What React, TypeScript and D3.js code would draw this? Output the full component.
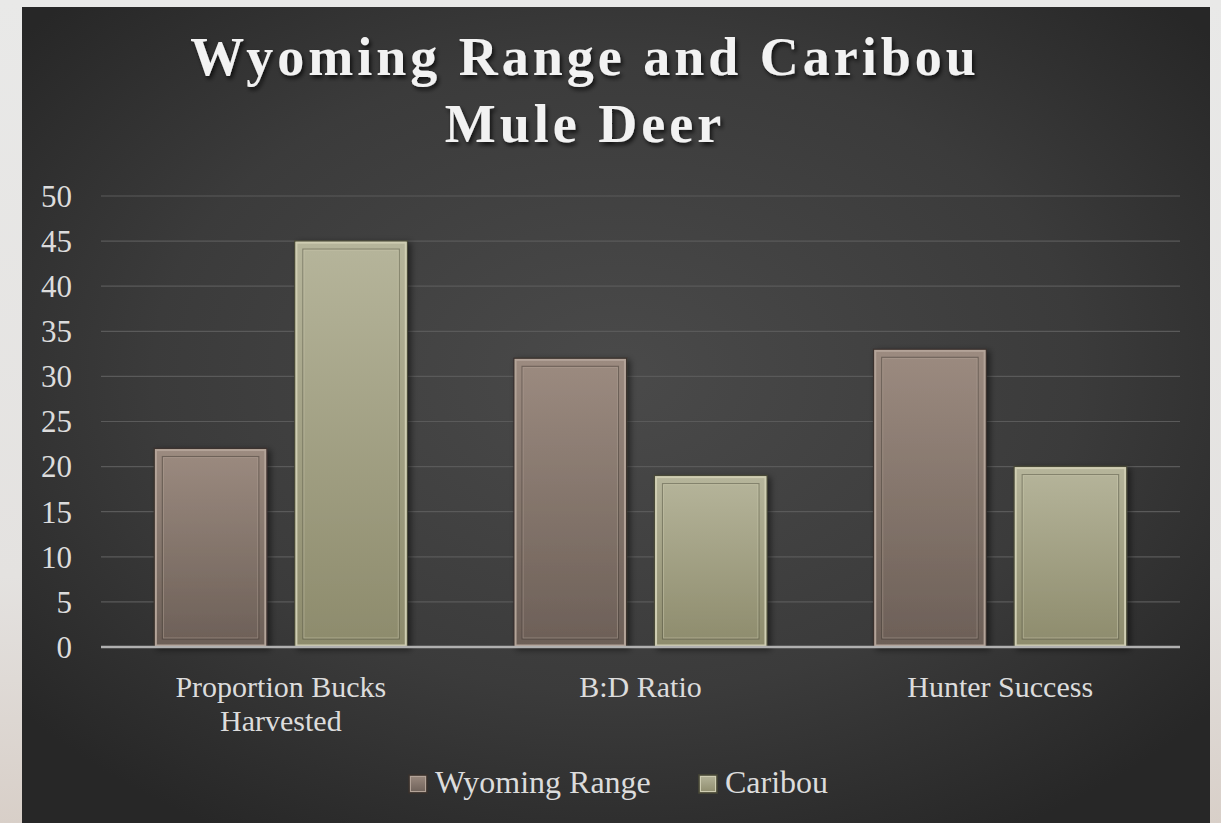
import * as d3 from "d3";

const categories = ["Proportion Bucks Harvested", "B:D Ratio", "Hunter Success"];
const categoryLines = [["Proportion Bucks", "Harvested"], ["B:D Ratio"], ["Hunter Success"]];
const seriesNames = ["Wyoming Range", "Caribou"];
const wyomingValues = [22, 32, 33];
const caribouValues = [45, 19, 20];
const yTicks = [0, 5, 10, 15, 20, 25, 30, 35, 40, 45, 50];

const W = 1221;
const H = 823;
const panel = { x: 22, y: 7, w: 1188, h: 816 };
const plot = { left: 101, right: 1180, top: 196, bottom: 647 };
const font = "'Liberation Serif', 'DejaVu Serif', serif";

const fills = [
  { top: "#9c8b80", bottom: "#6c5f57", edge: "#b3a398", dark: "#3a322d" },
  { top: "#b6b59b", bottom: "#8d8b6c", edge: "#cfcdb2", dark: "#4a4a38" },
];

export default function App() {
  const x0 = d3.scaleBand().domain(categories).range([plot.left, plot.right]);
  const x1 = d3.scaleBand().domain(seriesNames).range([0, x0.bandwidth()]).paddingInner(0.2).paddingOuter(0.38);
  const y = d3.scaleLinear().domain([0, 50]).range([plot.bottom, plot.top]);
  const series = [wyomingValues, caribouValues];

  return (
    <svg width={W} height={H} style={{ position: "absolute", left: 0, top: 0 }}>
      <defs>
        <linearGradient id="outer" x1="0" y1="0" x2="0" y2="1">
          <stop offset="0" stopColor="#e9e9e8" />
          <stop offset="0.7" stopColor="#e4e2e0" />
          <stop offset="1" stopColor="#d8cfc8" />
        </linearGradient>
        <radialGradient id="bg" cx="0.5" cy="0.45" r="0.65">
          <stop offset="0" stopColor="#4a4a4a" />
          <stop offset="0.6" stopColor="#3b3b3b" />
          <stop offset="1" stopColor="#272727" />
        </radialGradient>
        {fills.map((f, i) => (
          <linearGradient key={i} id={`bar${i}`} x1="0" y1="0" x2="0" y2="1">
            <stop offset="0" stopColor={f.top} />
            <stop offset="1" stopColor={f.bottom} />
          </linearGradient>
        ))}
        <filter id="tshadow" x="-10%" y="-20%" width="120%" height="150%">
          <feDropShadow dx="2" dy="3" stdDeviation="2" floodColor="#000" floodOpacity="0.7" />
        </filter>
        <filter id="bshadow" x="-20%" y="-10%" width="140%" height="120%">
          <feDropShadow dx="3" dy="2" stdDeviation="3" floodColor="#000" floodOpacity="0.5" />
        </filter>
      </defs>
      <rect x={0} y={0} width={W} height={H} fill="url(#outer)" />
      <rect x={panel.x} y={panel.y} width={panel.w} height={panel.h} fill="url(#bg)" />

      <g fontFamily={font} fontWeight="bold" fontSize={54} fill="#f2f2f2" textAnchor="middle"
        letterSpacing={4} filter="url(#tshadow)">
        <text x={585} y={75}>Wyoming Range and Caribou</text>
        <text x={585} y={142}>Mule Deer</text>
      </g>

      {yTicks.map((t) => (
        <g key={t}>
          {t > 0 && (
            <line x1={plot.left} x2={plot.right} y1={y(t)} y2={y(t)} stroke="#5a5a5a" strokeWidth={1.2} />
          )}
          <text x={72} y={y(t)} dy="0.35em" textAnchor="end" fontFamily={font} fontSize={31} fill="#dcdcdc">
            {t}
          </text>
        </g>
      ))}

      {categories.map((c, ci) =>
        series.map((vals, si) => {
          const bx = (x0(c) ?? 0) + (x1(seriesNames[si]) ?? 0);
          const bw = x1.bandwidth();
          const by = y(vals[ci]);
          const bh = y(0) - by;
          const f = fills[si];
          return (
            <g key={`${c}-${si}`}>
              <rect x={bx} y={by} width={bw} height={bh} fill={`url(#bar${si})`} stroke={f.dark}
                strokeWidth={1.5} filter="url(#bshadow)" />
              <rect x={bx + 1.5} y={by + 1.5} width={bw - 3} height={bh - 3} fill="none" stroke={f.edge}
                strokeWidth={2} />
              <rect x={bx + 8} y={by + 8} width={bw - 16} height={bh - 16} fill="none" stroke={f.dark}
                strokeOpacity={0.45} strokeWidth={1.2} />
              <rect x={bx + 9} y={by + 9} width={bw - 18} height={bh - 18} fill="none" stroke={f.edge}
                strokeOpacity={0.5} strokeWidth={1} />
            </g>
          );
        })
      )}

      <line x1={plot.left} x2={plot.right} y1={y(0)} y2={y(0)} stroke="#b0b0b0" strokeWidth={2.5} />

      {categories.map((c, ci) => (
        <text key={c} x={(x0(c) ?? 0) + x0.bandwidth() / 2} y={697} textAnchor="middle"
          fontFamily={font} fontSize={30} fill="#dcdcdc">
          {categoryLines[ci].map((l, li) => (
            <tspan key={li} x={(x0(c) ?? 0) + x0.bandwidth() / 2} dy={li === 0 ? 0 : 34}>{l}</tspan>
          ))}
        </text>
      ))}

      {seriesNames.map((s, si) => {
        const lx = si === 0 ? 409 : 699;
        const f = fills[si];
        return (
          <g key={s}>
            <rect x={lx} y={775} width={18} height={18} fill={`url(#bar${si})`} stroke={f.dark} strokeWidth={1.5} />
            <rect x={lx + 1.5} y={776.5} width={15} height={15} fill="none" stroke={f.edge} strokeWidth={1} />
            <text x={lx + 26} y={793} fontFamily={font} fontSize={32} fill="#dcdcdc">{s}</text>
          </g>
        );
      })}
    </svg>
  );
}
